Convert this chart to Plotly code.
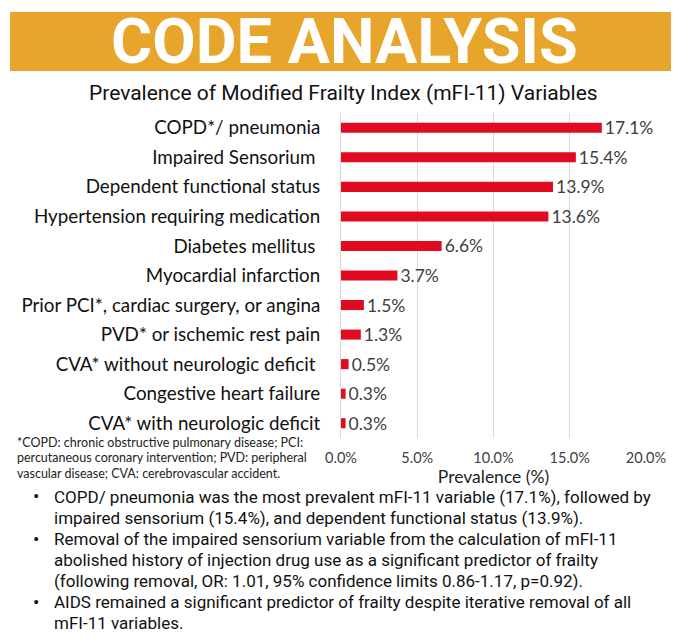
import plotly.graph_objects as go

categories = [
    "COPD*/ pneumonia",
    "Impaired Sensorium\u00a0",
    "Dependent functional status",
    "Hypertension requiring medication",
    "Diabetes mellitus\u00a0",
    "Myocardial infarction",
    "Prior PCI*, cardiac surgery, or angina",
    "PVD* or ischemic rest pain",
    "CVA* without neurologic deficit\u00a0",
    "Congestive heart failure",
    "CVA* with neurologic deficit",
]
values = [17.1, 15.4, 13.9, 13.6, 6.6, 3.7, 1.5, 1.3, 0.5, 0.3, 0.3]
tick_vals = [0, 5, 10, 15, 20]
tick_text = ["0.0%", "5.0%", "10.0%", "15.0%", "20.0%"]

banner_title = "CODE ANALYSIS"
chart_title = "Prevalence of Modified Frailty Index (mFI-11) Variables"
x_title = "Prevalence (%)"
footnote_lines = [
    "*COPD: chronic obstructive pulmonary disease; PCI:",
    "percutaneous coronary intervention; PVD: peripheral",
    "vascular disease; CVA: cerebrovascular accident.",
]
bullets = [
    ["COPD/ pneumonia was the most prevalent mFI-11 variable (17.1%), followed by",
     "impaired sensorium (15.4%), and dependent functional status (13.9%)."],
    ["Removal of the impaired sensorium variable from the calculation of mFI-11",
     "abolished history of injection drug use as a significant predictor of frailty",
     "(following removal, OR: 1.01, 95% confidence limits 0.86-1.17, p=0.92)."],
    ["AIDS remained a significant predictor of frailty despite iterative removal of all",
     "mFI-11 variables."],
]

W, H = 697, 639
L, R, T, B = 341, 51, 113, 201
PW, PH = W - L - R, H - T - B


def px(x):
    return (x - L) / PW


def py(y):
    return (H - B - y) / PH


fig = go.Figure()
fig.add_trace(go.Bar(
    x=values,
    y=categories,
    orientation="h",
    marker=dict(color="#E00B20", line=dict(width=0)),
    text=[f"{v:.1f}%" for v in values],
    textposition="outside",
    constraintext="none",
    textfont=dict(family="Lato", size=17.5, color="#404040"),
    cliponaxis=False,
    width=0.34,
    hoverinfo="skip",
))

annotations = []
shapes = []

shapes.append(dict(type="rect", xref="paper", yref="paper",
                   x0=px(10), x1=px(671), y0=py(71), y1=py(12),
                   fillcolor="#E7A52B", line=dict(width=0), layer="below"))
annotations.append(dict(text=f"<b>{banner_title}</b>", xref="paper", yref="paper",
                        x=px(344), y=py(42), xanchor="center", yanchor="middle",
                        showarrow=False,
                        font=dict(family="Roboto", size=63, color="white")))
annotations.append(dict(text=chart_title, xref="paper", yref="paper",
                        x=px(343), y=py(93), xanchor="center", yanchor="middle",
                        showarrow=False,
                        font=dict(family="Roboto", size=21, color="#111111")))

for i, line in enumerate(footnote_lines):
    annotations.append(dict(text=line, xref="paper", yref="paper",
                            x=px(15), y=py(442 + 15.5 * i), xanchor="left", yanchor="middle",
                            showarrow=False,
                            font=dict(family="Lato", size=12.5, color="#222222")))

line_y = 497
for b in bullets:
    annotations.append(dict(text="\u2022", xref="paper", yref="paper",
                            x=px(36), y=py(line_y), xanchor="center", yanchor="middle",
                            showarrow=False,
                            font=dict(family="Roboto", size=19, color="#111111")))
    for line in b:
        annotations.append(dict(text=line, xref="paper", yref="paper",
                                x=px(52), y=py(line_y), xanchor="left", yanchor="middle",
                                showarrow=False,
                                font=dict(family="Roboto", size=17, color="#111111")))
        line_y += 21

fig.update_layout(
    width=W, height=H,
    margin=dict(l=L, r=R, t=T, b=B, pad=0),
    paper_bgcolor="white",
    plot_bgcolor="white",
    showlegend=False,
    shapes=shapes,
    annotations=annotations,
    xaxis=dict(
        range=[0, 20],
        tickvals=tick_vals,
        ticktext=tick_text,
        showgrid=True,
        gridcolor="#D9D9D9",
        gridwidth=1,
        zeroline=False,
        showline=False,
        ticks="",
        ticklabelstandoff=9,
        tickfont=dict(family="Lato", size=14.5, color="#404040"),
        title=dict(text=x_title, standoff=2,
                   font=dict(family="Lato", size=17.5, color="#222222")),
        fixedrange=True,
    ),
    yaxis=dict(
        autorange="reversed",
        showline=True,
        linecolor="#D9D9D9",
        linewidth=1,
        ticks="",
        showgrid=False,
        ticklabelstandoff=16,
        tickfont=dict(family="Lato", size=18.8, color="#111111"),
        fixedrange=True,
    ),
)

fig.write_html("out.html")
